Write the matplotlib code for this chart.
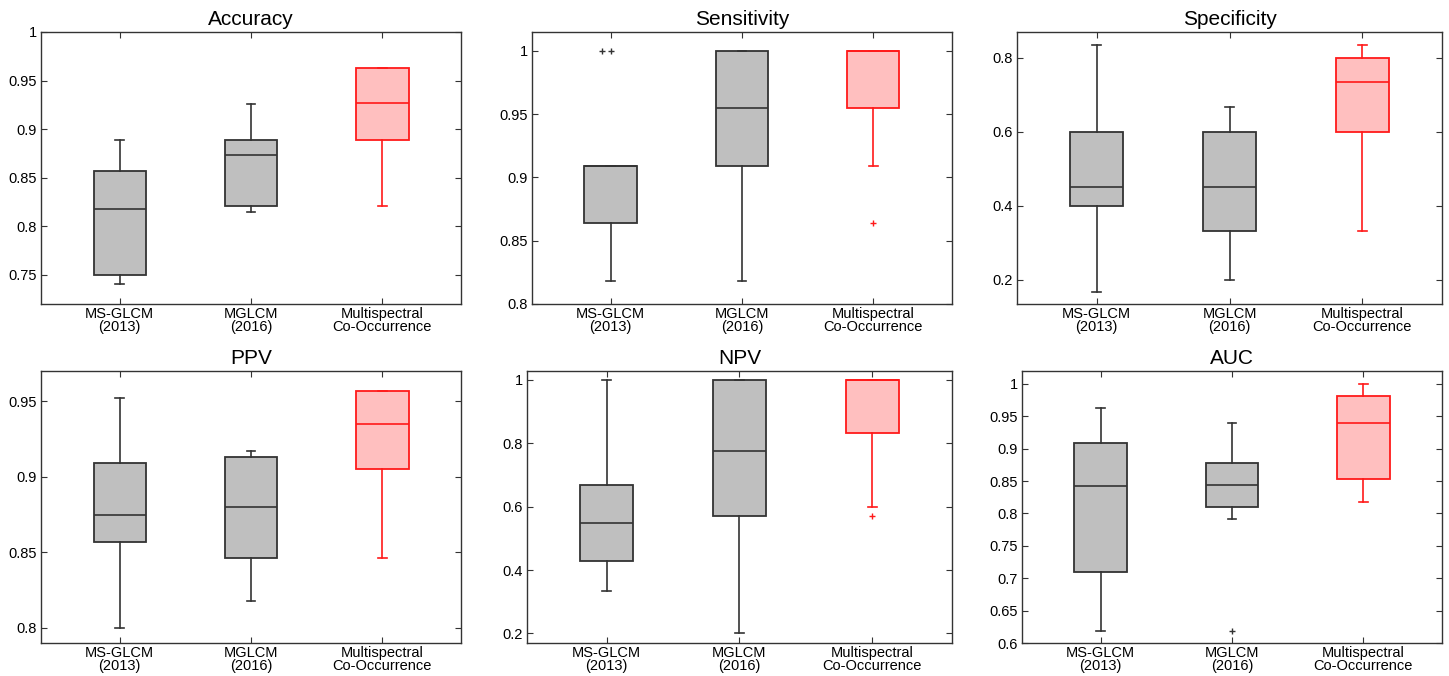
import matplotlib
matplotlib.use("Agg")
import matplotlib.pyplot as plt
from matplotlib.ticker import FormatStrFormatter

plt.rcParams['font.family'] = ['Liberation Sans', 'DejaVu Sans']

# methods on the x axis
methods = ["MS-GLCM\n(2013)", "MGLCM\n(2016)", "Multispectral\nCo-Occurrence"]

# each box: [whisker low, q1, median, q3, whisker high]
accuracy = [[0.741, 0.750, 0.818, 0.857, 0.889],
            [0.815, 0.821, 0.873, 0.889, 0.926],
            [0.821, 0.889, 0.927, 0.963, 0.963]]
accuracy_fliers = [[], [], []]

sensitivity = [[0.818, 0.864, 0.909, 0.909, 0.909],
               [0.818, 0.909, 0.955, 1.000, 1.000],
               [0.909, 0.955, 1.000, 1.000, 1.000]]
sensitivity_fliers = [[1.0, 1.0], [], [0.864]]

specificity = [[0.167, 0.400, 0.450, 0.600, 0.833],
               [0.200, 0.333, 0.450, 0.600, 0.667],
               [0.333, 0.600, 0.733, 0.800, 0.833]]
specificity_fliers = [[], [], []]

ppv = [[0.800, 0.857, 0.875, 0.909, 0.952],
       [0.818, 0.846, 0.880, 0.913, 0.917],
       [0.846, 0.905, 0.935, 0.957, 0.957]]
ppv_fliers = [[], [], []]

npv = [[0.333, 0.429, 0.550, 0.667, 1.000],
       [0.200, 0.571, 0.775, 1.000, 1.000],
       [0.600, 0.833, 1.000, 1.000, 1.000]]
npv_fliers = [[], [], [0.571]]

auc = [[0.618, 0.709, 0.843, 0.909, 0.963],
       [0.791, 0.810, 0.844, 0.878, 0.939],
       [0.818, 0.854, 0.940, 0.981, 1.000]]
auc_fliers = [[], [0.618], []]

titles = ["Accuracy", "Sensitivity", "Specificity", "PPV", "NPV", "AUC"]
boxes = [accuracy, sensitivity, specificity, ppv, npv, auc]
fliers = [accuracy_fliers, sensitivity_fliers, specificity_fliers,
          ppv_fliers, npv_fliers, auc_fliers]

ylims = [(0.72, 1.0), (0.8, 1.015), (0.135, 0.869),
         (0.79, 0.97), (0.17, 1.028), (0.6, 1.02)]
yticks = [[0.75, 0.8, 0.85, 0.9, 0.95, 1.0],
          [0.8, 0.85, 0.9, 0.95, 1.0],
          [0.2, 0.4, 0.6, 0.8],
          [0.8, 0.85, 0.9, 0.95],
          [0.2, 0.4, 0.6, 0.8, 1.0],
          [0.6, 0.65, 0.7, 0.75, 0.8, 0.85, 0.9, 0.95, 1.0]]

# axes rectangles (left, bottom, width, height) in figure fraction
rects = [[0.0283, 0.5503, 0.2899, 0.4024],
         [0.3671, 0.5503, 0.2899, 0.4024],
         [0.7019, 0.5503, 0.2933, 0.4024],
         [0.0283, 0.0488, 0.2899, 0.4024],
         [0.3637, 0.0488, 0.2933, 0.4024],
         [0.7053, 0.0488, 0.2899, 0.4024]]

gray_edge = '#333333'
gray_fill = '#bfbfbf'
red_edge = '#ff1a1a'
red_fill = '#ffbfbf'

fig = plt.figure(figsize=(14.49, 6.76), dpi=100)

for i in range(6):
    ax = fig.add_axes(rects[i])
    stats = []
    for b in boxes[i]:
        stats.append({'whislo': b[0], 'q1': b[1], 'med': b[2],
                      'q3': b[3], 'whishi': b[4], 'fliers': []})
    for j, s in enumerate(stats):
        if j < 2:
            ec, fc = gray_edge, gray_fill
        else:
            ec, fc = red_edge, red_fill
        ax.bxp([s], positions=[j + 1], widths=0.4, capwidths=0.066,
               patch_artist=True, showfliers=False,
               boxprops=dict(facecolor=fc, edgecolor=ec, linewidth=1.3),
               medianprops=dict(color=ec, linewidth=1.2),
               whiskerprops=dict(color=ec, linewidth=1.2),
               capprops=dict(color=ec, linewidth=1.2))
        # outliers ('+'), repeated values drawn side by side
        for k, v in enumerate(fliers[i][j]):
            ax.plot(j + 1 - 0.066 * k, v, marker='+', color=ec,
                    markersize=5, markeredgewidth=1.0, linestyle='none')

    ax.set_xlim(0.4, 3.6)
    ax.set_ylim(*ylims[i])
    ax.set_yticks(yticks[i])
    ax.yaxis.set_major_formatter(FormatStrFormatter('%g'))
    ax.set_xticks([1, 2, 3])
    ax.set_xticklabels(methods, linespacing=0.95)
    ax.tick_params(direction='in', top=True, right=True, labelsize=10.5,
                   length=4, width=0.8, color='#333333', pad=3)
    ax.tick_params(axis='x', pad=2)
    for sp in ax.spines.values():
        sp.set_color('#333333')
        sp.set_linewidth(1.0)
    ax.set_title(titles[i], fontsize=15, pad=5)

fig.savefig("out.png", dpi=100)
